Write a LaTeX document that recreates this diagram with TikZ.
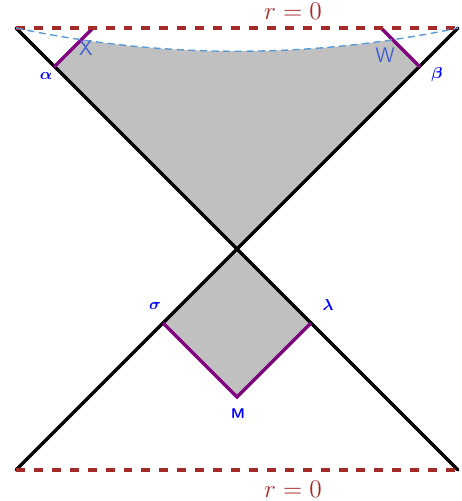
\documentclass[tikz,border=0pt]{standalone}
\usepackage{amsmath}
\usepackage{bm}
\definecolor{horizonred}{HTML}{A52A2A}
\definecolor{edgepurple}{HTML}{800080}
\definecolor{regiongray}{HTML}{C0C0C0}
\definecolor{pointblue}{HTML}{0000FF}
\definecolor{slicetext}{HTML}{4060D0}
\definecolor{sliceblue}{HTML}{5B9BD5}
\tikzset{
  worldline/.style={line width=2pt, draw=black, line cap=round},
  cornerline/.style={line width=2pt, draw=edgepurple},
  horizon/.style={line width=2.3pt, draw=horizonred, dash pattern=on 5.1pt off 5.1pt},
  slicecurve/.style={line width=0.8pt, draw=sliceblue, dash pattern=on 4pt off 2.6pt},
  region/.style={fill=regiongray, draw=none},
  ptlabel/.style={text=pointblue, font=\small, inner sep=0pt},
  slicelabel/.style={text=slicetext, font=\large\sffamily, inner sep=0pt},
  rlabel/.style={text=horizonred, font=\Large, inner sep=0pt}
}

\begin{document}
\begin{tikzpicture}[x=0.02cm, y=-0.02cm]
\useasboundingbox (0,0) rectangle (461,501);

% Corners and crossing.
\coordinate (tl) at (16,28);
\coordinate (tr) at (458,28);
\coordinate (bl) at (16,470);
\coordinate (br) at (458,470);
\coordinate (o) at (237,249);

% Upper wedge corners.
\coordinate (alpha) at (54,67);
\coordinate (xtop) at (93,28);
\coordinate (beta) at (420,67);
\coordinate (wtop) at (381,28);

% Lower square corners.
\coordinate (sigma) at (163,323);
\coordinate (lambda) at (311,323);
\coordinate (m) at (237,397);

% Shaded regions.
\begin{scope}
  \clip (tl) .. controls (163,59) and (311,59) .. (tr) -- (458,260) -- (16,260) -- cycle;
  \fill[region] (alpha) -- (xtop) -- (wtop) -- (beta) -- (o) -- cycle;
\end{scope}
\fill[region] (o) -- (sigma) -- (m) -- (lambda) -- cycle;

% Light cone.
\draw[worldline] (tl) -- (br);
\draw[worldline] (tr) -- (bl);

% Purple edges.
\draw[cornerline] (alpha) -- (xtop);
\draw[cornerline] (beta) -- (wtop);
\draw[cornerline] (sigma) -- (m) -- (lambda);

% Singularities.
\draw[horizon] (tl) -- (tr);
\draw[horizon] (bl) -- (br);
\draw[slicecurve] (tl) .. controls (163,59) and (311,59) .. (tr);

% Labels.
\node[rlabel] (rtop) at (293,11) {$r=0$};
\node[rlabel] (rbot) at (293,489) {$r=0$};
\node[slicelabel] (xlab) at (86,48) {X};
\node[slicelabel] (wlab) at (385,55) {W};
\node[ptlabel] (alab) at (46,76) {$\bm{\alpha}$};
\node[ptlabel] (blab) at (437,75) {$\bm{\beta}$};
\node[ptlabel] (slab) at (155,306) {$\bm{\sigma}$};
\node[ptlabel] (llab) at (328,305) {$\bm{\lambda}$};
\node[ptlabel, font=\footnotesize\sffamily\bfseries] (mlab) at (238,414) {M};

\end{tikzpicture}
\end{document}
